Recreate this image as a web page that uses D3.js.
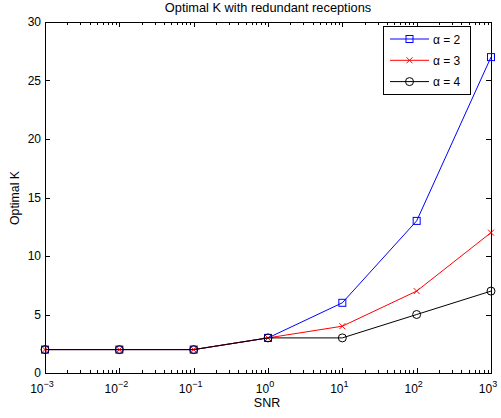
<!DOCTYPE html>
<html>
<head>
<meta charset="utf-8">
<style>
  body { margin: 0; background: #fff; }
  text { font-family: "Liberation Sans", Arial, sans-serif; fill: #000; }
</style>
<script src="https://d3js.org/d3.v7.min.js"></script>
</head>
<body>
<div id="chart"></div>
<script>
// data
var snr = [1e-3, 1e-2, 1e-1, 1e0, 1e1, 1e2, 1e3];
var k_alpha2 = [2, 2, 2, 3, 6, 13, 27];
var k_alpha3 = [2, 2, 2, 3, 4, 7, 12];
var k_alpha4 = [2, 2, 2, 3, 3, 5, 7];
var seriesNames = ["\u03b1 = 2", "\u03b1 = 3", "\u03b1 = 4"];
var yTicks = [0, 5, 10, 15, 20, 25, 30];
var xTickExp = [-3, -2, -1, 0, 1, 2, 3];

var W = 501, H = 418;
var margin = {top: 22, right: 10, bottom: 45, left: 45};
var width = 491 - margin.left, height = 373 - margin.top;

var svg = d3.select("#chart").append("svg")
    .attr("width", W).attr("height", H);
var g = svg.append("g")
    .attr("transform", "translate(" + margin.left + "," + margin.top + ")");

var x = d3.scaleLog().domain([1e-3, 1e3]).range([0, width]);
var y = d3.scaleLinear().domain([0, 30]).range([height, 0]);

// minor ticks for log axis
var minor = [];
for (var e = -3; e < 3; e++) {
  for (var m = 2; m <= 9; m++) minor.push(m * Math.pow(10, e));
}

// ticks (inside, on all four sides)
var tk = g.append("g").attr("stroke", "#000").attr("stroke-width", 1);
xTickExp.forEach(function(p) {
  var xx = Math.round(x(Math.pow(10, p))) + 0.5;
  tk.append("line").attr("x1", xx).attr("x2", xx).attr("y1", height).attr("y2", height - 5);
  tk.append("line").attr("x1", xx).attr("x2", xx).attr("y1", 0).attr("y2", 5);
});
minor.forEach(function(v) {
  var xx = Math.round(x(v)) + 0.5;
  tk.append("line").attr("x1", xx).attr("x2", xx).attr("y1", height).attr("y2", height - 3);
  tk.append("line").attr("x1", xx).attr("x2", xx).attr("y1", 0).attr("y2", 3);
});
yTicks.forEach(function(v) {
  var yy = Math.round(y(v)) + 0.5;
  tk.append("line").attr("x1", 0).attr("x2", 5).attr("y1", yy).attr("y2", yy);
  tk.append("line").attr("x1", width).attr("x2", width - 5).attr("y1", yy).attr("y2", yy);
});

// box
g.append("rect").attr("x", 0.5).attr("y", 0.5).attr("width", width).attr("height", height)
  .attr("fill", "none").attr("stroke", "#000").attr("stroke-width", 1);

// tick labels
yTicks.forEach(function(v) {
  g.append("text").attr("x", -4).attr("y", y(v) + 4)
    .attr("text-anchor", "end").attr("font-size", 12).text(v);
});
xTickExp.forEach(function(p) {
  var t = g.append("text").attr("x", x(Math.pow(10, p)) - 3).attr("y", height + 20)
    .attr("text-anchor", "middle").attr("font-size", 12);
  t.append("tspan").text("10");
  t.append("tspan").attr("dy", -6).attr("font-size", 9).text(p < 0 ? "\u2212" + (-p) : p);
});

// labels
svg.append("text").attr("x", 268).attr("y", 12).attr("text-anchor", "middle")
  .attr("font-size", 12.8).text("Optimal K with redundant receptions");
svg.append("text").attr("x", 267).attr("y", 407).attr("text-anchor", "middle")
  .attr("font-size", 12.5).text("SNR");
svg.append("text").attr("transform", "translate(19,198) rotate(-90)")
  .attr("text-anchor", "middle").attr("font-size", 12.3).text("Optimal K");

var line = d3.line().x(function(d) { return x(d[0]); }).y(function(d) { return y(d[1]); });
var series = [
  {vals: k_alpha2, color: "#0000ff", marker: "square"},
  {vals: k_alpha3, color: "#ff0000", marker: "cross"},
  {vals: k_alpha4, color: "#000000", marker: "circle"}
];

function drawMarker(sel, type, cx, cy, color) {
  if (type === "square") {
    sel.append("rect").attr("x", cx - 3.5).attr("y", cy - 3.5).attr("width", 7).attr("height", 7)
      .attr("fill", "none").attr("stroke", color);
  } else if (type === "cross") {
    sel.append("path").attr("d", "M" + (cx - 3) + "," + (cy - 3) + "L" + (cx + 3) + "," + (cy + 3) +
      "M" + (cx - 3) + "," + (cy + 3) + "L" + (cx + 3) + "," + (cy - 3))
      .attr("stroke", color).attr("fill", "none");
  } else {
    sel.append("circle").attr("cx", cx).attr("cy", cy).attr("r", 4)
      .attr("fill", "none").attr("stroke", color);
  }
}

series.forEach(function(s) {
  var pts = snr.map(function(v, i) { return [v, s.vals[i]]; });
  var sg = g.append("g");
  sg.append("path").datum(pts).attr("d", line).attr("fill", "none")
    .attr("stroke", s.color).attr("stroke-width", 1);
  pts.forEach(function(p) { drawMarker(sg, s.marker, x(p[0]), y(p[1]), s.color); });
});

// legend
var lg = svg.append("g");
lg.append("rect").attr("x", 383.5).attr("y", 26.5).attr("width", 87).attr("height", 68)
  .attr("fill", "#fff").attr("stroke", "#000").attr("stroke-width", 1);
series.forEach(function(s, i) {
  var ly = 39 + i * 21.3;
  lg.append("line").attr("x1", 390).attr("x2", 429).attr("y1", ly).attr("y2", ly)
    .attr("stroke", s.color);
  drawMarker(lg, s.marker, 409.5, ly, s.color);
  lg.append("text").attr("x", 433).attr("y", ly + 4.5).attr("font-size", 12).text(seriesNames[i]);
});
</script>
</body>
</html>
